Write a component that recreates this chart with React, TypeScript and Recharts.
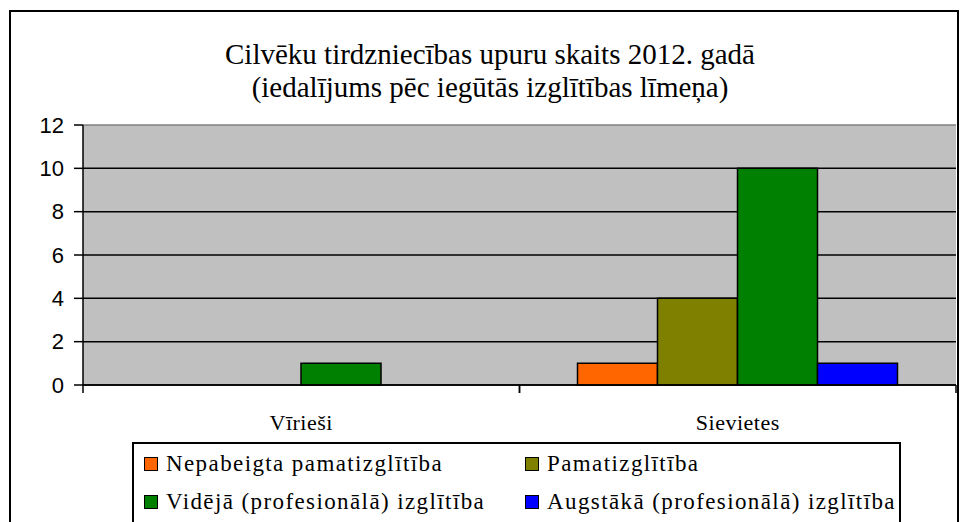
import React from 'react';
import { BarChart, Bar, XAxis, YAxis, CartesianGrid, Legend } from 'recharts';

const categories = ['Vīrieši', 'Sievietes'];
const seriesNames = [
  'Nepabeigta pamatizglītība',
  'Pamatizglītība',
  'Vidējā (profesionālā) izglītība',
  'Augstākā (profesionālā) izglītība',
];
const nepabeigta = [0, 1];
const pamatizglitiba = [0, 4];
const videja = [1, 10];
const augstaka = [0, 1];
const yTicks = [0, 2, 4, 6, 8, 10, 12];
const innerGrid = [0, 2, 4, 6, 8, 10];
const topGrid = [12];

const COLORS = ['#FF6600', '#808000', '#008000', '#0000FF'];
const KEYS = ['s0', 's1', 's2', 's3'];

const data = categories.map((name, i) => ({
  name,
  s0: nepabeigta[i],
  s1: pamatizglitiba[i],
  s2: videja[i],
  s3: augstaka[i],
}));

const SERIF = '"Liberation Serif", "Times New Roman", serif';
const SANS = '"Liberation Sans", Arial, sans-serif';

const TICK_SIZE = 8;
const TICK_MARGIN = 21;

// category label, plus tick marks on the band edges (offset = half band from the scale)
const CategoryTick = (props: any) => {
  const { x, y, payload } = props;
  const half = payload.offset || 0;
  const y0 = y - TICK_SIZE - TICK_MARGIN;
  return (
    <g>
      <line x1={x - half} x2={x - half} y1={y0} y2={y0 + TICK_SIZE} stroke="#000" strokeWidth={1.5} />
      <line x1={x + half} x2={x + half} y1={y0} y2={y0 + TICK_SIZE} stroke="#000" strokeWidth={1.5} />
      <text x={x} y={y} dy="0.71em" textAnchor="middle" fill="#000" fontFamily={SERIF} fontSize={22} letterSpacing={0.5}>
        {payload.value}
      </text>
    </g>
  );
};

const LegendBox = () => (
  <div style={{ position: 'relative', width: '100%', height: '100%', fontFamily: SERIF, fontSize: 23, color: '#000' }}>
    {seriesNames.map((label, i) => (
      <div
        key={label}
        style={{
          position: 'absolute',
          left: i % 2 === 1 ? 391 : 10,
          top: i < 2 ? 7 : 45,
          display: 'flex',
          alignItems: 'center',
          whiteSpace: 'nowrap',
          letterSpacing: 1.4,
        }}
      >
        <span style={{ display: 'inline-block', width: 12, height: 12, background: COLORS[i], border: '1px solid #000', marginRight: 8 }} />
        {label}
      </div>
    ))}
  </div>
);

const App: React.FC = () => {
  return (
    <div style={{ position: 'absolute', left: 0, top: 0, width: 960, height: 522, overflow: 'hidden', background: '#fff' }}>
      <div style={{ position: 'absolute', left: 9, top: 10, width: 950, height: 540, border: '2px solid #000', boxSizing: 'border-box' }} />
      <div
        style={{
          position: 'absolute',
          left: 0,
          width: 980,
          top: 38,
          textAlign: 'center',
          fontFamily: SERIF,
          fontSize: 29,
          lineHeight: '33px',
          color: '#000',
        }}
      >
        <div>Cilvēku tirdzniecības upuru skaits 2012. gadā</div>
        <div>(iedalījums pēc iegūtās izglītības līmeņa)</div>
      </div>
      <div style={{ position: 'absolute', left: 0, top: 0 }}>
        <BarChart width={960} height={522} data={data} margin={{ top: 125, right: 4, left: 0, bottom: 87 }} barGap={0} barSize={80}>
          <CartesianGrid vertical={false} horizontalValues={topGrid} stroke="#808080" strokeWidth={1.5} fill="#C0C0C0" />
          <CartesianGrid vertical={false} horizontalValues={innerGrid} stroke="#000" strokeWidth={1.5} />
          <XAxis
            dataKey="name"
            height={50}
            tickLine={false}
            tickSize={TICK_SIZE}
            tickMargin={TICK_MARGIN}
            axisLine={{ stroke: '#000', strokeWidth: 1.5 }}
            tick={<CategoryTick />}
          />
          <YAxis
            domain={[0, 12]}
            ticks={yTicks}
            width={83}
            tickSize={9}
            tickMargin={10}
            axisLine={{ stroke: '#000', strokeWidth: 1.5 }}
            tickLine={{ stroke: '#000', strokeWidth: 1.5 }}
            tick={{ fill: '#000', fontFamily: SANS, fontSize: 22 }}
          />
          <YAxis yAxisId="right" orientation="right" width={0} tick={false} tickLine={false} axisLine={{ stroke: '#808080', strokeWidth: 1.5 }} />
          {KEYS.map((k, i) => (
            <Bar
              key={k}
              dataKey={k}
              name={seriesNames[i]}
              fill={COLORS[i]}
              stroke="#000"
              strokeWidth={1.5}
              isAnimationActive={false}
            />
          ))}
          <Legend
            layout="horizontal"
            verticalAlign="middle"
            align="center"
            content={<LegendBox />}
            wrapperStyle={{
              position: 'absolute',
              top: 442,
              left: 132,
              width: 769,
              height: 90,
              border: '2px solid #000',
              boxSizing: 'border-box',
              background: '#fff',
            }}
          />
        </BarChart>
      </div>
    </div>
  );
};

export default App;
